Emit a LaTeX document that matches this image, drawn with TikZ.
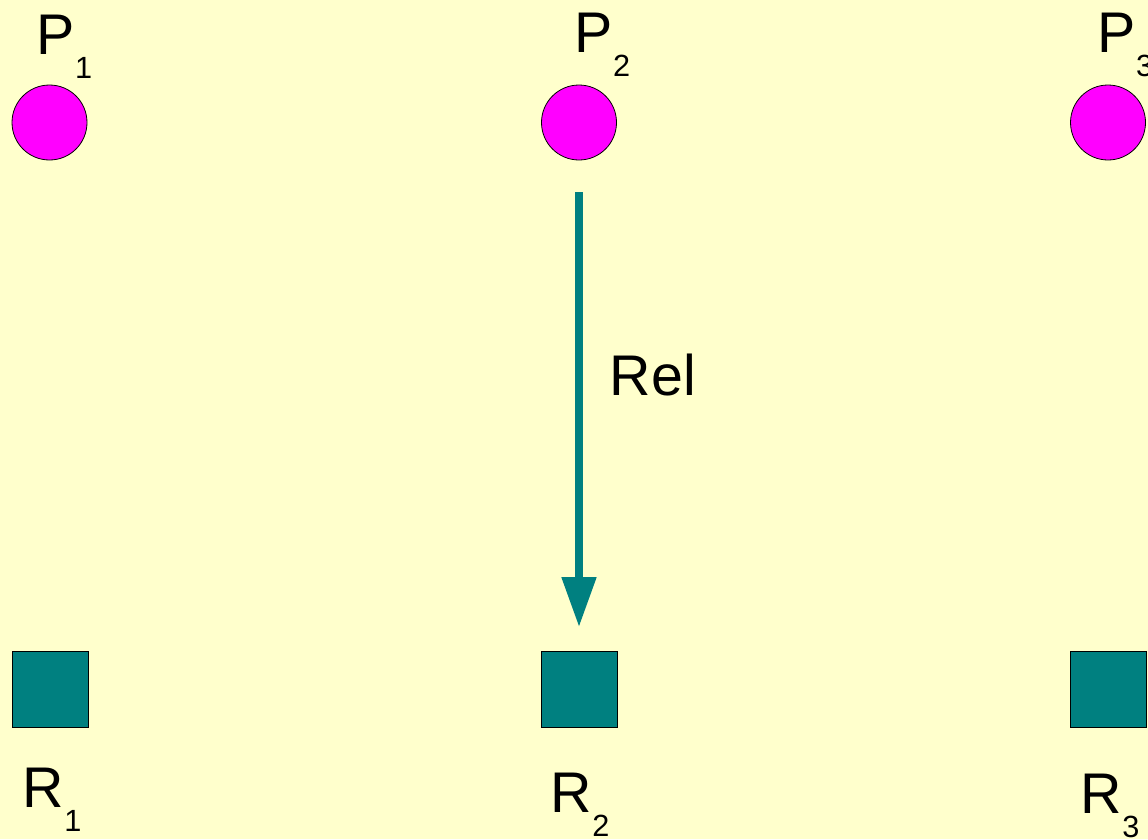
\documentclass[tikz,border=0pt]{standalone}
\usepackage{fontspec}
\setmainfont{Liberation Sans}
\usetikzlibrary{arrows.meta}
\definecolor{bgyellow}{HTML}{FFFFCC}
\definecolor{pmagenta}{HTML}{FF00FF}
\definecolor{relteal}{HTML}{008080}
\newcommand{\sublab}[2]{#1\raisebox{-18.5pt}{\fontsize{23}{25}\selectfont #2}}
\tikzstyle{pvertex} = [circle,draw=black,line width=0.6pt,fill=pmagenta,minimum size=56.25pt,inner sep=0pt]
\tikzstyle{rvertex} = [rectangle,draw=black,line width=0.6pt,fill=relteal,minimum size=57pt,inner sep=0pt]
\tikzstyle{lab} = [anchor=base west,inner sep=0pt,font=\fontsize{43}{50}\selectfont]
\tikzstyle{rel} = [draw=relteal,line width=6pt,-{Triangle[length=37.5pt,width=24.75pt]},shorten <=24pt,shorten >=18pt]

\begin{document}
\begin{tikzpicture}[x=0.75pt,y=-0.75pt]
	\fill[bgyellow] (0,0) rectangle (1148,839);
	\useasboundingbox (0,0) rectangle (1148,839);
	\node[pvertex] (p1) at (49.5,122.5) {};
	\node[pvertex] (p2) at (579,122.5) {};
	\node[pvertex] (p3) at (1108,122.5) {};
	\node[rvertex] (r1) at (50,689.5) {};
	\node[rvertex] (r2) at (579,689.5) {};
	\node[rvertex] (r3) at (1108,689.5) {};
	
	\node[lab] (lp1) at (36.5,54) {\sublab{P}{1}};
	\node[lab] (lp2) at (574.5,52) {\sublab{P}{2}};
	\node[lab] (lp3) at (1097.5,52) {\sublab{P}{3}};
	\node[lab] (lr1) at (22.6,807) {\sublab{R}{1}};
	\node[lab] (lr2) at (550.6,812) {\sublab{R}{2}};
	\node[lab] (lr3) at (1080.6,813) {\sublab{R}{3}};
	
	\draw[rel] (p2) -- (r2);
	\node[lab] (lrel) at (609.6,395) {Rel};
\end{tikzpicture}
\end{document}
